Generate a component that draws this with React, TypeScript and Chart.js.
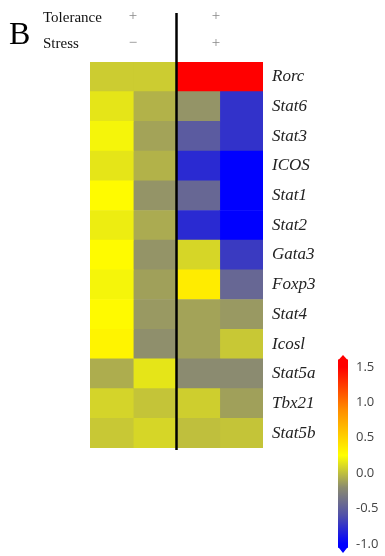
import React, { useEffect, useRef } from "react";
import { Chart, registerables } from "chart.js";

Chart.register(...registerables);

const genes = ["Rorc", "Stat6", "Stat3", "ICOS", "Stat1", "Stat2", "Gata3", "Foxp3", "Stat4", "Icosl", "Stat5a", "Tbx21", "Stat5b"];
// columns: tolerance+/stress- (2 samples), tolerance+/stress+ (2 samples)
const col1 = [0.05, 0.15, 0.21, 0.15, 0.27, 0.18, 0.27, 0.21, 0.28, 0.31, -0.07, 0.08, 0.035];
const col2 = [0.05, -0.05, -0.11, -0.05, -0.17, -0.08, -0.17, -0.12, -0.15, -0.19, 0.15, 0.02, 0.09];
const col3 = [1.55, -0.17, -0.53, -0.79, -0.45, -0.79, 0.09, 0.36, -0.11, -0.11, -0.21, 0.06, 0.0];
const col4 = [1.55, -0.75, -0.75, -1.0, -1.0, -1.0, -0.71, -0.45, -0.15, 0.035, -0.21, -0.12, 0.02];
const columns = [col1, col2, col3, col4];

const scaleValues = [-1.0, -0.6, -0.2, 0.25, 0.9, 1.5];
const scaleColors: number[][] = [
  [0, 0, 255],
  [80, 80, 170],
  [140, 140, 110],
  [255, 255, 0],
  [255, 140, 0],
  [255, 0, 0],
];
const colorbarTicks = [-1.0, -0.5, 0.0, 0.5, 1.0, 1.5];
const colorbarRange = [-1.05, 1.6];

function colorFor(v: number): string {
  if (v <= scaleValues[0]) return `rgb(${scaleColors[0].join(",")})`;
  const n = scaleValues.length;
  if (v >= scaleValues[n - 1]) return `rgb(${scaleColors[n - 1].join(",")})`;
  for (let i = 0; i < n - 1; i++) {
    if (v >= scaleValues[i] && v <= scaleValues[i + 1]) {
      const t = (v - scaleValues[i]) / (scaleValues[i + 1] - scaleValues[i]);
      const c = scaleColors[i].map((a, k) => Math.round(a + (scaleColors[i + 1][k] - a) * t));
      return `rgb(${c.join(",")})`;
    }
  }
  return "gray";
}

const serif = "'Liberation Serif', 'Times New Roman', serif";

export default function App() {
  const mainRef = useRef<HTMLCanvasElement>(null);
  const barRef = useRef<HTMLCanvasElement>(null);

  useEffect(() => {
    const dividerPlugin = {
      id: "divider",
      afterDatasetsDraw(chart: any) {
        const { ctx, chartArea, scales } = chart;
        const x = scales.x.getPixelForValue(2);
        ctx.save();
        ctx.strokeStyle = "#000";
        ctx.lineWidth = 2.5;
        ctx.beginPath();
        ctx.moveTo(x, 13);
        ctx.lineTo(x, chartArea.bottom + 2);
        ctx.stroke();
        ctx.restore();
      },
    };

    const main = new Chart(mainRef.current!, {
      type: "bar",
      data: {
        labels: genes,
        datasets: columns.map((col, j) => ({
          data: col.map(() => [j, j + 1]),
          backgroundColor: col.map(colorFor),
          borderWidth: 0,
          barPercentage: 1,
          categoryPercentage: 1,
          grouped: false,
        })) as any,
      },
      options: {
        indexAxis: "y",
        responsive: false,
        animation: false,
        layout: { padding: { left: 90, top: 62, bottom: 108, right: 0 } },
        plugins: { legend: { display: false }, tooltip: { enabled: false } },
        scales: {
          x: { type: "linear", min: 0, max: 4, display: false },
          y: {
            type: "category",
            position: "right",
            grid: { display: false, drawTicks: false },
            border: { display: false },
            ticks: {
              padding: 9,
              color: "#222",
              font: { family: serif, style: "italic", size: 17 },
            },
            afterFit: (s: any) => {
              s.width = 122;
              s.paddingTop = 0;
              s.paddingBottom = 0;
            },
          },
        },
      },
      plugins: [dividerPlugin],
    });

    const arrowPlugin = {
      id: "arrows",
      afterDatasetsDraw(chart: any) {
        const { ctx, scales } = chart;
        const meta = chart.getDatasetMeta(0);
        const bar = meta.data[0];
        if (!bar) return;
        const half = bar.width / 2;
        const cx = bar.x;
        const yTop = scales.y.getPixelForValue(colorbarRange[1]);
        const yBot = scales.y.getPixelForValue(colorbarRange[0]);
        ctx.save();
        ctx.fillStyle = colorFor(2);
        ctx.beginPath();
        ctx.moveTo(cx - half, yTop + 0.5);
        ctx.lineTo(cx, scales.y.top);
        ctx.lineTo(cx + half, yTop + 0.5);
        ctx.closePath();
        ctx.fill();
        ctx.fillStyle = colorFor(-2);
        ctx.beginPath();
        ctx.moveTo(cx - half, yBot - 0.5);
        ctx.lineTo(cx, scales.y.bottom);
        ctx.lineTo(cx + half, yBot - 0.5);
        ctx.closePath();
        ctx.fill();
        ctx.restore();
      },
    };

    const bar = new Chart(barRef.current!, {
      type: "bar",
      data: {
        labels: ["scale"],
        datasets: [
          {
            data: [colorbarRange] as any,
            borderWidth: 0,
            barPercentage: 1,
            categoryPercentage: 1,
            backgroundColor: (c: any) => {
              const chart = c.chart;
              const { chartArea, scales } = chart;
              if (!chartArea || !scales.y) return "gray";
              const lo = scaleValues[0];
              const hi = scaleValues[scaleValues.length - 1];
              const g = chart.ctx.createLinearGradient(0, scales.y.getPixelForValue(lo), 0, scales.y.getPixelForValue(hi));
              scaleValues.forEach((v, i) => {
                g.addColorStop((v - lo) / (hi - lo), `rgb(${scaleColors[i].join(",")})`);
              });
              return g;
            },
          },
        ],
      },
      options: {
        responsive: false,
        animation: false,
        layout: { padding: { left: 8, top: 10, bottom: 3, right: 0 } },
        plugins: { legend: { display: false }, tooltip: { enabled: false } },
        scales: {
          x: { display: false },
          y: {
            type: "linear",
            position: "right",
            min: -1.13,
            max: 1.67,
            grid: { display: false, drawTicks: false },
            border: { display: false },
            afterBuildTicks: (s: any) => {
              s.ticks = colorbarTicks.map((v) => ({ value: v }));
            },
            ticks: {
              padding: 8,
              color: "#444",
              font: { family: "'Open Sans', sans-serif", size: 13 },
              callback: (v: any) => Number(v).toFixed(1),
            },
            afterFit: (s: any) => {
              s.width = 37;
              s.paddingTop = 0;
              s.paddingBottom = 0;
            },
          },
        },
      },
      plugins: [arrowPlugin],
    });

    return () => {
      main.destroy();
      bar.destroy();
    };
  }, []);

  const abs = (extra: React.CSSProperties): React.CSSProperties => ({
    position: "absolute",
    margin: 0,
    whiteSpace: "nowrap",
    fontFamily: serif,
    ...extra,
  });

  return (
    <div style={{ position: "fixed", left: 0, top: 0, width: 385, height: 556, background: "#fff", overflow: "hidden" }}>
      <canvas ref={mainRef} width={385} height={556} style={{ position: "absolute", left: 0, top: 0, display: "block" }} />
      <canvas ref={barRef} width={55} height={211} style={{ position: "absolute", left: 330, top: 345, display: "block" }} />
      <div style={abs({ left: 9, top: 17, fontSize: 32, lineHeight: "32px", color: "#000" })}>B</div>
      <div style={abs({ left: 43, top: 10, fontSize: 15, lineHeight: "15px", color: "#111" })}>Tolerance</div>
      <div style={abs({ left: 43, top: 36, fontSize: 15, lineHeight: "15px", color: "#111" })}>Stress</div>
      <div style={abs({ left: 123, width: 20, textAlign: "center", top: 8, fontSize: 15, lineHeight: "15px", color: "#888" })}>+</div>
      <div style={abs({ left: 123, width: 20, textAlign: "center", top: 35, fontSize: 15, lineHeight: "15px", color: "#888" })}>−</div>
      <div style={abs({ left: 206, width: 20, textAlign: "center", top: 8, fontSize: 15, lineHeight: "15px", color: "#888" })}>+</div>
      <div style={abs({ left: 206, width: 20, textAlign: "center", top: 35, fontSize: 15, lineHeight: "15px", color: "#888" })}>+</div>
    </div>
  );
}
